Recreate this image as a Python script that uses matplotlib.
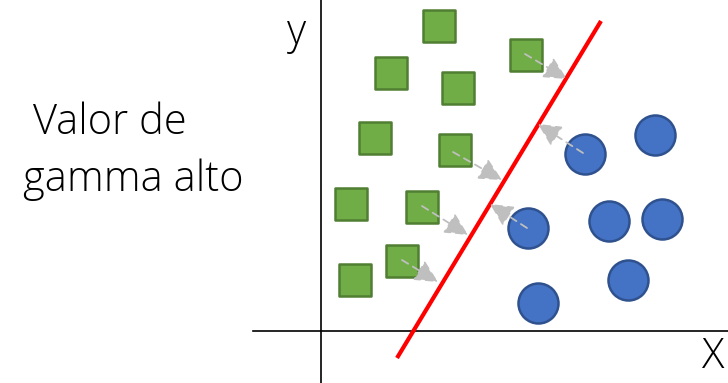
import matplotlib.pyplot as plt

# point positions (pixel-like coordinates, y grows downward)
square_x = [439, 391, 458, 526, 375, 455, 351, 422, 355, 402]
square_y = [26, 73, 88, 55, 138, 150, 204, 207, 280, 261]
circle_x = [585, 655, 528, 609, 662, 628, 538]
circle_y = [154, 135, 228, 221, 219, 280, 303]

# separating line
line_x = [397, 601]
line_y = [358, 21]

# dashed arrows: start -> tip
arrow_start = [(525, 54), (583, 153), (453, 152), (422, 206), (527, 228), (402, 260)]
arrow_end = [(567, 79), (538, 124), (502, 180), (468, 235), (490, 204), (438, 282)]

plt.rcParams['font.family'] = ['Open Sans', 'DejaVu Sans']

fig = plt.figure(figsize=(7.28, 3.83), dpi=100)
ax = fig.add_axes([0, 0, 1, 1])
ax.set_xlim(0, 728)
ax.set_ylim(383, 0)
ax.axis("off")

# axes of the sketch
ax.plot([321, 321], [0, 383], color="black", lw=1.2)
ax.plot([253, 728], [331, 331], color="black", lw=1.2)

ax.scatter(square_x, square_y, marker="s", s=560, color="#70AD47",
           edgecolors="#507E32", linewidths=1.8, zorder=3)
ax.scatter(circle_x, circle_y, marker="o", s=830, color="#4472C4",
           edgecolors="#2F528F", linewidths=1.8, zorder=3)

ax.plot(line_x, line_y, color="#FF0000", lw=3, zorder=4, solid_capstyle="butt")

for (x0, y0), (x1, y1) in zip(arrow_start, arrow_end):
    ax.annotate("", xy=(x1, y1), xytext=(x0, y0), zorder=5,
                arrowprops=dict(arrowstyle="-|>,head_length=0.7,head_width=0.35",
                                linestyle=(0, (4, 3)), color="#BFBFBF", lw=1.3,
                                shrinkA=0, shrinkB=0, mutation_scale=20))

ax.text(297, 33, "y", fontsize=30, ha="center", va="center", fontweight="light")
ax.text(713, 357, "X", fontsize=30, ha="center", va="center", fontweight="light")
ax.text(110, 123, "Valor de", fontsize=30, ha="center", va="center", fontweight="light")
ax.text(133, 180, "gamma alto", fontsize=30, ha="center", va="center", fontweight="light")

fig.savefig("out.png", dpi=100)
